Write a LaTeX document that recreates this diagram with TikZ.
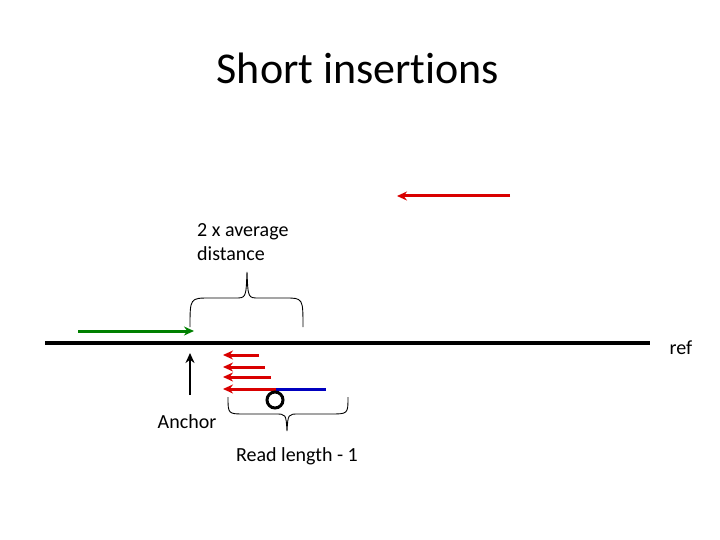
\documentclass[tikz,border=0pt]{standalone}
\usepackage{fontspec}
\setmainfont[Ligatures=NoCommon]{Carlito}
\usetikzlibrary{arrows.meta}
\begin{document}
\begin{tikzpicture}[x=1pt,y=-1pt,
  redarr/.style={draw=red!85!black,line width=3pt,-{Stealth[length=10pt,width=9pt]}},
  lbl/.style={font=\fontsize{20}{24}\selectfont,inner sep=0pt},
  brace/.style={draw,line width=0.9pt}]
\useasboundingbox (0,0) rectangle (720,540);
\node[font=\fontsize{44}{48}\selectfont] (title) at (358,68) {Short insertions};
\coordinate (t1) at (510,196); \coordinate (t2) at (397,196);
\draw[redarr] (t1) -- (t2);
\node[lbl,align=left,anchor=north west] (avg) at (197,223) {2 x average\\distance};
% top brace
\coordinate (b1) at (190,327); \coordinate (b2) at (303,327); \coordinate (btip) at (247,272);
\draw[brace] (b1) .. controls (190,298) .. (210,298) -- (235,298) .. controls (246,298) .. (btip)
  .. controls (248,298) .. (259,298) -- (285,298) .. controls (303,298) .. (b2);
% green arrow
\coordinate (g1) at (78,331); \coordinate (g2) at (194,331);
\draw[draw=green!50!black,line width=3pt,-{Stealth[length=10pt,width=9pt]}] (g1) -- (g2);
% ref
\coordinate (r1) at (45,343); \coordinate (r2) at (650,343);
\draw[line width=3.2pt] (r1) -- (r2);
\node[lbl] (ref) at (681,348) {ref};
% anchor arrow
\coordinate (a1) at (190,395); \coordinate (a2) at (190,353);
\draw[line width=2.6pt,-{Stealth[length=10pt,width=9pt]}] (a1) -- (a2);
\node[lbl] (anchor) at (187,422) {Anchor};
% red reads
\foreach \y/\xr in {355/259,367/265,377/271,389/276}{
  \coordinate (ra) at (\xr,\y); \coordinate (rb) at (223,\y);
  \draw[redarr] (ra) -- (rb);}
\coordinate (bl1) at (276,389); \coordinate (bl2) at (326,389);
\draw[draw=blue!75!black,line width=3pt] (bl1) -- (bl2);
\node[draw,circle,line width=3pt,minimum size=16pt,inner sep=0pt] (circ) at (275,400) {};
% bottom brace
\coordinate (c1) at (228,397); \coordinate (c2) at (348,397); \coordinate (ctip) at (287,431);
\draw[brace] (c1) .. controls (228,414) .. (245,414) -- (275,414) .. controls (286,414) .. (ctip)
  .. controls (288,414) .. (299,414) -- (330,414) .. controls (348,414) .. (c2);
\node[lbl] (rl) at (297,456) {Read length - 1};
\end{tikzpicture}
\end{document}
